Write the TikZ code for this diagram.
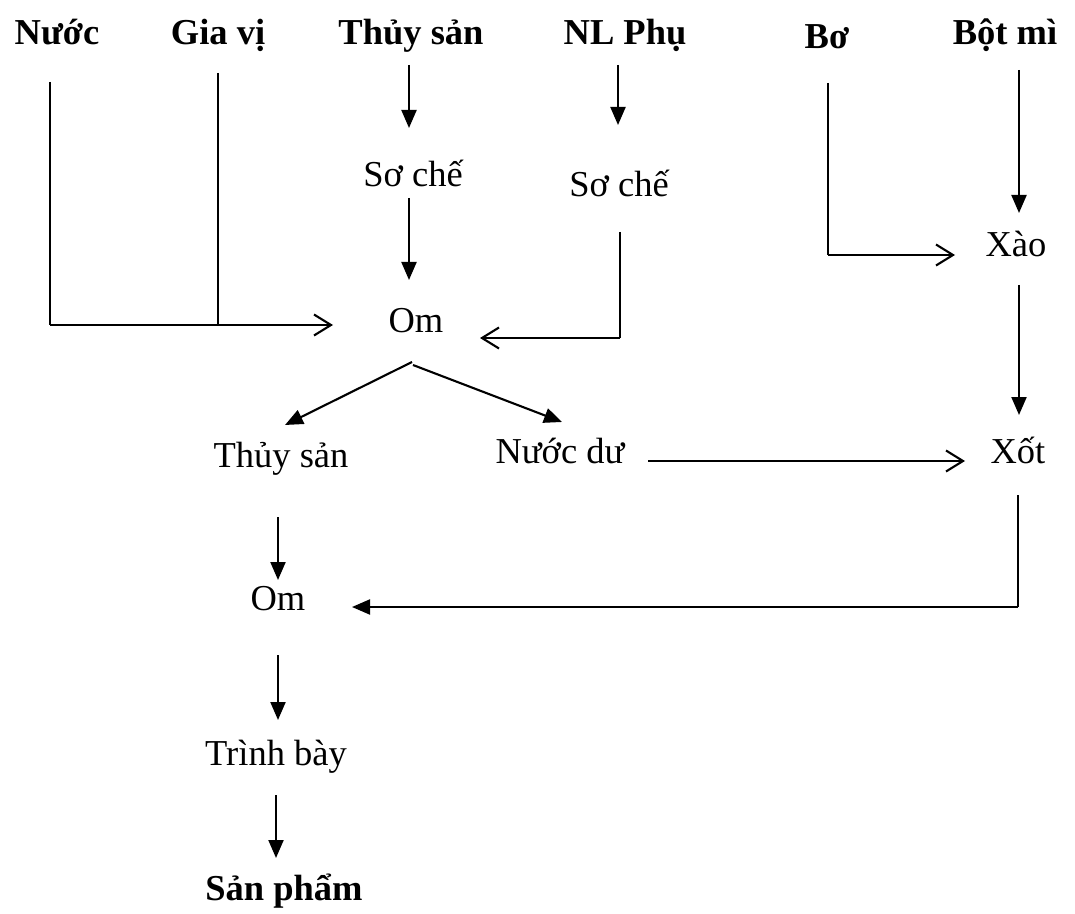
\documentclass[tikz,border=0pt]{standalone}
\usepackage{fontspec}
\setmainfont{Liberation Serif}
\usetikzlibrary{arrows.meta,calc}
\begin{document}
\begin{tikzpicture}[x=0.5pt,y=-0.5pt,
  lbl/.style={inner sep=0pt,anchor=base,font=\fontsize{18.25}{22}\selectfont},
  bl/.style={lbl,font=\fontsize{18.25}{22}\selectfont\bfseries},
  thinv/.style={line width=0.75pt},
  fa/.style={line width=1.05pt,-{Triangle[length=9pt,width=7.5pt]}},
  oa/.style={line width=1.05pt,-{Straight Barb[length=8.5pt,width=10.5pt,line width=1.05pt]}}]
\useasboundingbox (0,0) rectangle (1075,914);
% labels
\node[bl] (nuoc) at (57,45) {Nước};
\node[bl] (giavi) at (218,45) {Gia vị};
\node[bl] (thuysan) at (411,45) {Thủy sản};
\node[bl] (nlphu) at (625,45) {NL Phụ};
\node[bl] (bo) at (827,49) {Bơ};
\node[bl] (botmi) at (1005,45) {Bột mì};
\node[lbl] (sc1) at (413,187) {Sơ chế};
\node[lbl] (sc2) at (619,197) {Sơ chế};
\node[lbl] (xao) at (1016,257) {Xào};
\node[lbl] (om1) at (416,333) {Om};
\node[lbl] (ts2) at (281,467) {Thủy sản};
\node[lbl] (nd) at (560,463) {Nước dư};
\node[lbl] (xot) at (1018,463) {Xốt};
\node[lbl] (om2) at (278,610) {Om};
\node[lbl] (tb) at (276,765) {Trình bày};
\node[bl] (sp) at (284,900) {Sản phẩm};
% junctions
\coordinate (c1) at (50,325);
\coordinate (c2) at (218,325);
\coordinate (c3) at (620,338);
\coordinate (c4) at (828,255);
\coordinate (c5) at (1018,607);
% connectors
\draw[thinv] ($(nuoc.base)+(-7,37)$) -- (c1);
\draw[oa] (c1) -- ($(om1.base)+(-83,-8)$);
\draw[thinv] ($(giavi.base)+(0,28)$) -- (c2);
\draw[fa] ($(thuysan.base)+(-2,20)$) -- ($(sc1.base)+(-4,-59)$);
\draw[fa] ($(sc1.base)+(-4,11)$) -- ($(om1.base)+(-7,-53)$);
\draw[fa] ($(nlphu.base)+(-7,20)$) -- ($(sc2.base)+(-1,-72)$);
\draw[thinv] ($(sc2.base)+(1,35)$) -- (c3);
\draw[oa] (c3) -- ($(om1.base)+(64,5)$);
\draw[thinv] ($(bo.base)+(1,34)$) -- (c4);
\draw[oa] (c4) -- ($(xao.base)+(-61,-2)$);
\draw[fa] ($(botmi.base)+(14,25)$) -- ($(xao.base)+(3,-44)$);
\draw[fa] ($(xao.base)+(3,28)$) -- ($(xot.base)+(1,-48)$);
\draw[fa] ($(om1.base)+(-4,29)$) -- ($(ts2.base)+(4,-42)$);
\draw[fa] ($(om1.base)+(-3,32)$) -- ($(nd.base)+(2,-41)$);
\draw[oa] ($(nd.base)+(88,-2)$) -- ($(xot.base)+(-53,-2)$);
\draw[thinv] ($(xot.base)+(0,32)$) -- (c5);
\draw[fa] (c5) -- ($(om2.base)+(74,-3)$);
\draw[fa] ($(ts2.base)+(-3,50)$) -- ($(om2.base)+(0,-30)$);
\draw[fa] ($(om2.base)+(0,45)$) -- ($(tb.base)+(2,-45)$);
\draw[fa] ($(tb.base)+(0,30)$) -- ($(sp.base)+(-8,-42)$);
\end{tikzpicture}
\end{document}
